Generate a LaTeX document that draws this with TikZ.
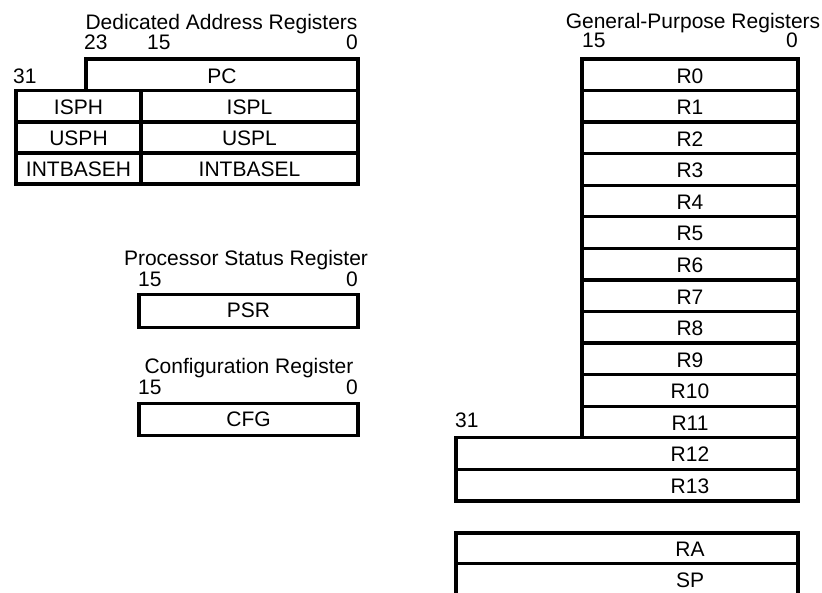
\documentclass[tikz,border=0pt]{standalone}
\usepackage{fontspec}
\setmainfont{Liberation Sans}
\begin{document}
\begin{tikzpicture}[x=1pt,y=-1pt,
  every node/.style={font=\fontsize{21}{25}\selectfont, inner sep=0pt},
  regline/.style={line width=3.3pt, line join=miter},
  regtext/.style={anchor=base},
  bitnum/.style={anchor=base west},
  bitnumr/.style={anchor=base east},
  title/.style={anchor=base}]
\useasboundingbox (0,0) rectangle (822,593);
\fill[white] (0,0) rectangle (822,593);

% ---------- Dedicated Address Registers ----------
\node[title] (datitle) at (221.5,30) {Dedicated Address Registers};
\node[bitnum] (da23) at (84,50) {23};
\node[bitnum] (da15) at (147,50) {15};
\node[bitnumr] (da0) at (358,50) {0};
\node[bitnum] (da31) at (13,83.5) {31};

\draw[regline] (86,59) rectangle (358,90.5);
\node[regtext] (PC) at (222,84) {PC};
\draw[regline] (16,90.5) rectangle (141,122);
\draw[regline] (141,90.5) rectangle (358,122);
\node[regtext] (ISPH) at (78.5,115) {ISPH};
\node[regtext] (ISPL) at (249.5,115) {ISPL};
\draw[regline] (16,122) rectangle (141,153);
\draw[regline] (141,122) rectangle (358,153);
\node[regtext] (USPH) at (78.5,146) {USPH};
\node[regtext] (USPL) at (249.5,146) {USPL};
\draw[regline] (16,153) rectangle (141,184);
\draw[regline] (141,153) rectangle (358,184);
\node[regtext] (INTBASEH) at (78.5,177) {INTBASEH};
\node[regtext] (INTBASEL) at (249.5,177) {INTBASEL};

% ---------- Processor Status Register ----------
\node[title] (psrtitle) at (246,266) {Processor Status Register};
\node[bitnum] (psr15) at (138,287) {15};
\node[bitnumr] (psr0) at (358,287) {0};
\draw[regline] (139,294.5) rectangle (358,327.5);
\node[regtext] (PSR) at (248.5,318) {PSR};

% ---------- Configuration Register ----------
\node[title] (cfgtitle) at (249,374) {Configuration Register};
\node[bitnum] (cfg15) at (138,395) {15};
\node[bitnumr] (cfg0) at (358,395) {0};
\draw[regline] (139,403.5) rectangle (358,435.5);
\node[regtext] (CFG) at (248.5,427) {CFG};

% ---------- General-Purpose Registers ----------
\node[title] (gptitle) at (693,29) {General-Purpose Registers};
\node[bitnum] (gp15) at (582,48) {15};
\node[bitnumr] (gp0) at (798,48) {0};
\foreach \i in {0,...,11} {
  \draw[regline] (582,{59+31.57*\i}) rectangle (798,{59+31.57*(\i+1)});
  \node[regtext] (R\i) at (690,{59+31.57*(\i+1)-7.5}) {R\i};
}
\node[bitnum] (gp31) at (455,428) {31};
\draw[regline] (456,437.8) rectangle (798,469.4);
\node[regtext] (R12) at (690,461.9) {R12};
\draw[regline] (456,469.4) rectangle (798,501);
\node[regtext] (R13) at (690,493.5) {R13};

\draw[regline] (456,533) rectangle (798,563.5);
\node[regtext] (RA) at (690,556) {RA};
\draw[regline] (456,600) -- (456,563.5) (798,563.5) -- (798,600);
\node[regtext] (SP) at (690,587) {SP};
\end{tikzpicture}
\end{document}
